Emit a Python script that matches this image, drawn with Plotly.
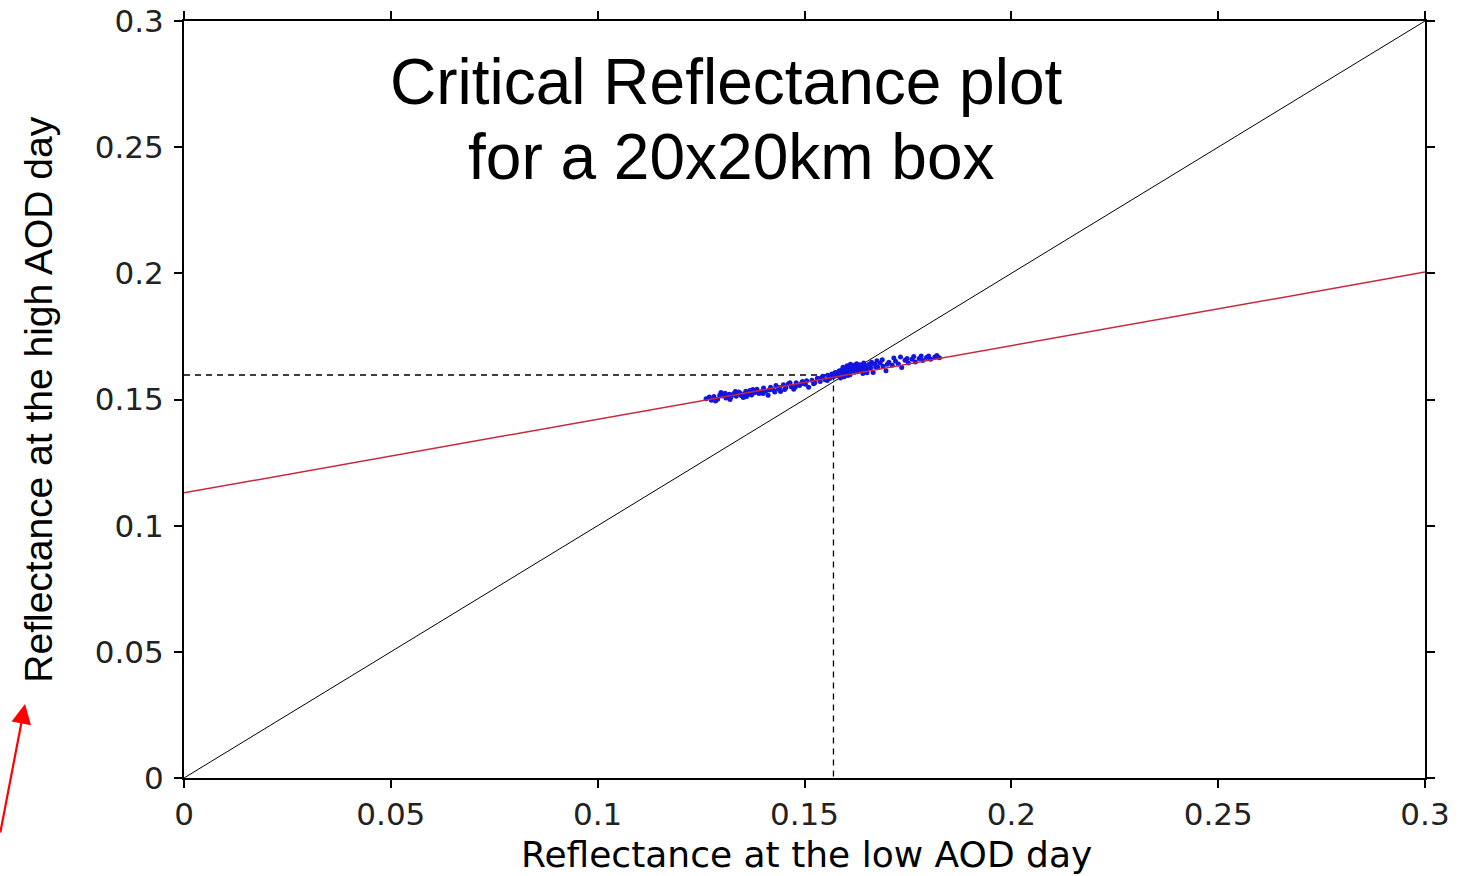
import plotly.graph_objects as go

# Axis ticks
tick_vals = [0, 0.05, 0.1, 0.15, 0.2, 0.25, 0.3]

# One-to-one reference line
one_to_one_x = [0.0, 0.3]
one_to_one_y = [0.0, 0.3]

# Linear fit of high-AOD vs low-AOD reflectance
fit_x = [0.0, 0.3]
fit_y = [0.113, 0.2005]

# Critical reflectance (crossing of the fit with the 1:1 line)
crit_x = 0.157
crit_y = 0.1597

# Pixel reflectances inside the 20x20 km box
low_aod = [
    0.1262, 0.1275, 0.1281, 0.1290, 0.1298, 0.1303, 0.1310, 0.1318, 0.1322, 0.1330,
    0.1335, 0.1341, 0.1347, 0.1352, 0.1358, 0.1363, 0.1368, 0.1372, 0.1379, 0.1385,
    0.1390, 0.1394, 0.1401, 0.1406, 0.1412, 0.1418, 0.1425, 0.1431, 0.1437, 0.1442,
    0.1449, 0.1455, 0.1461, 0.1468, 0.1474, 0.1480, 0.1488, 0.1495, 0.1502, 0.1510,
    0.1518, 0.1525, 0.1531, 0.1538, 0.1544, 0.1550, 0.1556, 0.1561, 0.1566, 0.1570,
    0.1574, 0.1579, 0.1583, 0.1587, 0.1591, 0.1595, 0.1599, 0.1602, 0.1606, 0.1610,
    0.1613, 0.1617, 0.1621, 0.1625, 0.1629, 0.1633, 0.1637, 0.1641, 0.1646, 0.1650,
    0.1655, 0.1660, 0.1666, 0.1671, 0.1677, 0.1683, 0.1690, 0.1697, 0.1704, 0.1712,
    0.1720, 0.1727, 0.1735, 0.1743, 0.1751, 0.1760, 0.1768, 0.1777, 0.1786, 0.1795,
    0.1805, 0.1815, 0.1826,
    0.1590, 0.1598, 0.1604, 0.1612, 0.1619, 0.1623, 0.1627, 0.1631, 0.1639, 0.1644,
    0.1652, 0.1658, 0.1596, 0.1608, 0.1615, 0.1635, 0.1600, 0.1620,
    0.1300, 0.1315, 0.1327, 0.1344, 0.1356, 0.1370, 0.1383, 0.1397,
    0.1270, 0.1285, 0.1295, 0.1308, 0.1320, 0.1333, 0.1345, 0.1360, 0.1375, 0.1388,
    0.1400, 0.1415, 0.1428, 0.1440, 0.1452, 0.1465, 0.1478, 0.1492, 0.1505, 0.1522,
    0.1540, 0.1555, 0.1568, 0.1582, 0.1593, 0.1603, 0.1611, 0.1618, 0.1626, 0.1634,
    0.1643, 0.1651, 0.1662, 0.1675, 0.1688, 0.1700, 0.1716, 0.1732, 0.1748, 0.1764,
    0.1782, 0.1800, 0.1820, 0.1585, 0.1605, 0.1628, 0.1645, 0.1660, 0.1672,
]
high_aod = [
    0.1503, 0.1497, 0.1512, 0.1501, 0.1528, 0.1519, 0.1506, 0.1521, 0.1509, 0.1525,
    0.1513, 0.1530, 0.1516, 0.1508, 0.1533, 0.1520, 0.1536, 0.1518, 0.1527, 0.1541,
    0.1524, 0.1530, 0.1546, 0.1533, 0.1517, 0.1549, 0.1538, 0.1555, 0.1542, 0.1532,
    0.1558, 0.1547, 0.1562, 0.1551, 0.1541, 0.1566, 0.1555, 0.1571, 0.1560, 0.1549,
    0.1576, 0.1566, 0.1584, 0.1571, 0.1592, 0.1578, 0.1596, 0.1583, 0.1601, 0.1589,
    0.1607, 0.1594, 0.1612, 0.1585, 0.1617, 0.1603, 0.1622, 0.1610, 0.1626, 0.1598,
    0.1619, 0.1631, 0.1608, 0.1624, 0.1635, 0.1614, 0.1628, 0.1603, 0.1632, 0.1618,
    0.1639, 0.1625, 0.1607, 0.1641, 0.1628, 0.1645, 0.1632, 0.1614, 0.1648, 0.1636,
    0.1652, 0.1641, 0.1627, 0.1656, 0.1645, 0.1660, 0.1649, 0.1662, 0.1655, 0.1666,
    0.1660, 0.1668, 0.1665,
    0.1605, 0.1612, 0.1618, 0.1611, 0.1622, 0.1615, 0.1629, 0.1620, 0.1624, 0.1618,
    0.1627, 0.1633, 0.1590, 0.1605, 0.1627, 0.1632, 0.1600, 0.1616,
    0.1514, 0.1516, 0.1520, 0.1526, 0.1522, 0.1528, 0.1533, 0.1531,
    0.1510, 0.1494, 0.1517, 0.1525, 0.1500, 0.1532, 0.1524, 0.1512, 0.1540, 0.1529,
    0.1524, 0.1538, 0.1530, 0.1548, 0.1540, 0.1566, 0.1550, 0.1562, 0.1574, 0.1562,
    0.1585, 0.1575, 0.1595, 0.1600, 0.1628, 0.1634, 0.1640, 0.1636, 0.1642, 0.1638,
    0.1645, 0.1606, 0.1648, 0.1654, 0.1658, 0.1640, 0.1664, 0.1668, 0.1662, 0.1670,
    0.1672, 0.1672, 0.1674, 0.1614, 0.1595, 0.1610, 0.1625, 0.1640, 0.1630,
]

title_lines = ["Critical Reflectance plot", "for a 20x20km box"]
x_title = "Reflectance at the low AOD day"
y_title = "Reflectance at the high AOD day"

fig = go.Figure()

fig.add_trace(go.Scatter(
    x=one_to_one_x, y=one_to_one_y, mode="lines",
    line=dict(color="black", width=1), showlegend=False, hoverinfo="skip",
))

# Dashed guides to the critical reflectance
fig.add_trace(go.Scatter(
    x=[0, crit_x, crit_x], y=[crit_y, crit_y, 0], mode="lines",
    line=dict(color="black", width=1.3, dash="6px,5px"), showlegend=False, hoverinfo="skip",
))

fig.add_trace(go.Scatter(
    x=low_aod, y=high_aod, mode="markers",
    marker=dict(color="#1414e0", size=5, line=dict(width=0)),
    showlegend=False,
))

fig.add_trace(go.Scatter(
    x=fit_x, y=fit_y, mode="lines",
    line=dict(color="#c8283c", width=1.5), showlegend=False, hoverinfo="skip",
))

axis_common = dict(
    range=[0, 0.3], tickvals=tick_vals, showgrid=False, zeroline=False,
    showline=True, linecolor="black", linewidth=2, mirror="allticks",
    ticks="outside", ticklen=8, tickwidth=2, tickcolor="black",
    tickfont=dict(family="DejaVu Sans", size=31, color="#222222"),
    automargin=False,
)

fig.update_xaxes(**axis_common)
fig.update_yaxes(**axis_common, ticklabelstandoff=4)

annotations = [
    dict(text=title_lines[0], x=0.437, y=0.920, xref="paper", yref="paper",
         xanchor="center", yanchor="middle", showarrow=False,
         font=dict(family="Liberation Sans", size=64, color="black")),
    dict(text=title_lines[1], x=0.441, y=0.820, xref="paper", yref="paper",
         xanchor="center", yanchor="middle", showarrow=False,
         font=dict(family="Liberation Sans", size=64, color="black")),
    dict(text=x_title, x=0.5016, y=-0.1295, xref="paper", yref="paper",
         xanchor="center", yanchor="bottom", showarrow=False, borderpad=0,
         font=dict(family="DejaVu Sans", size=36, color="black")),
    dict(text=y_title, x=-0.1175, y=0.5, xref="paper", yref="paper",
         xanchor="center", yanchor="middle", textangle=-90, showarrow=False,
         font=dict(family="Liberation Sans", size=39, color="black")),
    dict(text="", x=-0.1281, y=0.0978, xref="paper", yref="paper",
         showarrow=True, ax=-26, ay=130, axref="pixel", ayref="pixel",
         arrowcolor="red", arrowwidth=2.2, arrowhead=2, arrowsize=1.8),
]

fig.update_layout(
    width=1473, height=876,
    margin=dict(l=184, r=48, t=21, b=98),
    plot_bgcolor="white", paper_bgcolor="white",
    annotations=annotations,
    showlegend=False,
)

fig.write_html("out.html")
